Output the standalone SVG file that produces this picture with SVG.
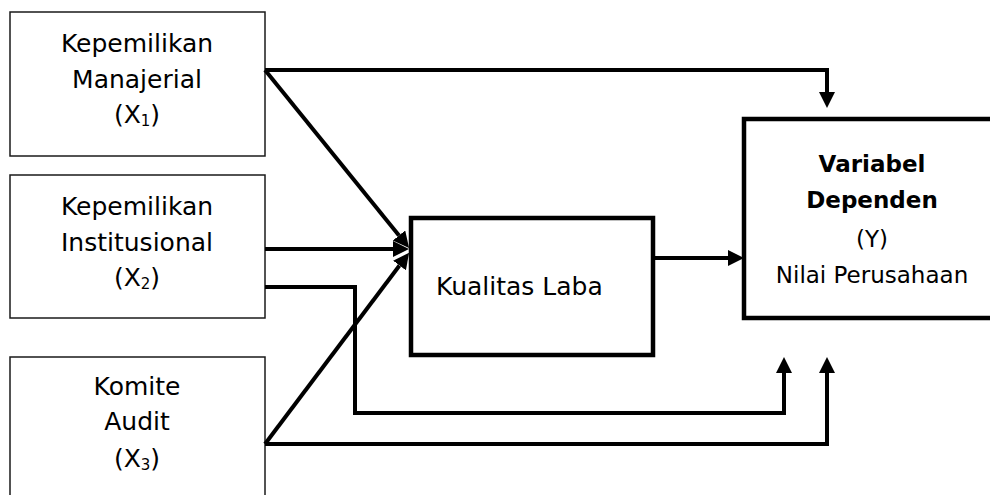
<svg xmlns="http://www.w3.org/2000/svg" width="990" height="495" viewBox="0 0 990 495">
<style>
  .thin { fill: #fff; stroke: #1a1a1a; stroke-width: 1.5; }
  .thick { fill: #fff; stroke: #000; stroke-width: 4.5; stroke-linejoin: miter; }
  .t { font-family: "DejaVu Sans", Verdana, sans-serif; font-size: 25px; fill: #000; text-anchor: middle; }
  .ty { font-family: "DejaVu Sans", Verdana, sans-serif; font-size: 23px; fill: #000; text-anchor: middle; }
  .b { font-weight: bold; }
  .sub { font-size: 15px; }
  .con { fill: none; stroke: #000; stroke-width: 4; stroke-linejoin: miter; }
</style>
<defs>
  <marker id="ah" markerUnits="userSpaceOnUse" markerWidth="17" markerHeight="17" refX="0" refY="8" orient="auto" viewBox="0 0 17 17">
    <path d="M0,0 L16,8 L0,16 z" fill="#000"/>
  </marker>
</defs>
<rect width="990" height="495" fill="#fff"/>

<g id="x1">
  <rect class="thin" x="10" y="12" width="255" height="144"/>
  <text class="t" x="137" y="52">Kepemilikan</text>
  <text class="t" x="137" y="88">Manajerial</text>
  <text class="t" x="137" y="123">(X<tspan class="sub" dy="3">1</tspan><tspan dy="-3">)</tspan></text>
</g>
<g id="x2">
  <rect class="thin" x="10" y="175" width="255" height="143"/>
  <text class="t" x="137" y="215">Kepemilikan</text>
  <text class="t" x="137" y="251">Institusional</text>
  <text class="t" x="137" y="286">(X<tspan class="sub" dy="3">2</tspan><tspan dy="-3">)</tspan></text>
</g>
<g id="x3">
  <rect class="thin" x="10" y="357" width="255" height="160"/>
  <text class="t" x="137" y="395">Komite</text>
  <text class="t" x="137" y="430">Audit</text>
  <text class="t" x="137" y="467">(X<tspan class="sub" dy="3">3</tspan><tspan dy="-3">)</tspan></text>
</g>
<g id="kualitas">
  <rect class="thick" x="411" y="218" width="242" height="137"/>
  <text class="t" x="436" y="295" style="text-anchor:start">Kualitas Laba</text>
</g>
<g id="y">
  <rect class="thick" x="744" y="119" width="270" height="199"/>
  <text class="ty b" x="872" y="172">Variabel</text>
  <text class="ty b" x="872" y="208">Dependen</text>
  <text class="ty" x="872" y="247">(Y)</text>
  <text class="ty" x="872" y="283">Nilai Perusahaan</text>
</g>

<g id="connectors">
  <path class="con" d="M265,70 H827 V92" marker-end="url(#ah)"/>
  <path class="con" d="M265,70 L399,235.5" marker-end="url(#ah)"/>
  <path class="con" d="M265,249 H393" marker-end="url(#ah)"/>
  <path class="con" d="M265,444 L399.5,265.5" marker-end="url(#ah)"/>
  <path class="con" d="M653,258 H728" marker-end="url(#ah)"/>
  <path class="con" d="M265,287 H355 V413 H784 V373" marker-end="url(#ah)"/>
  <path class="con" d="M265,444 H827 V373" marker-end="url(#ah)"/>
</g>
</svg>
